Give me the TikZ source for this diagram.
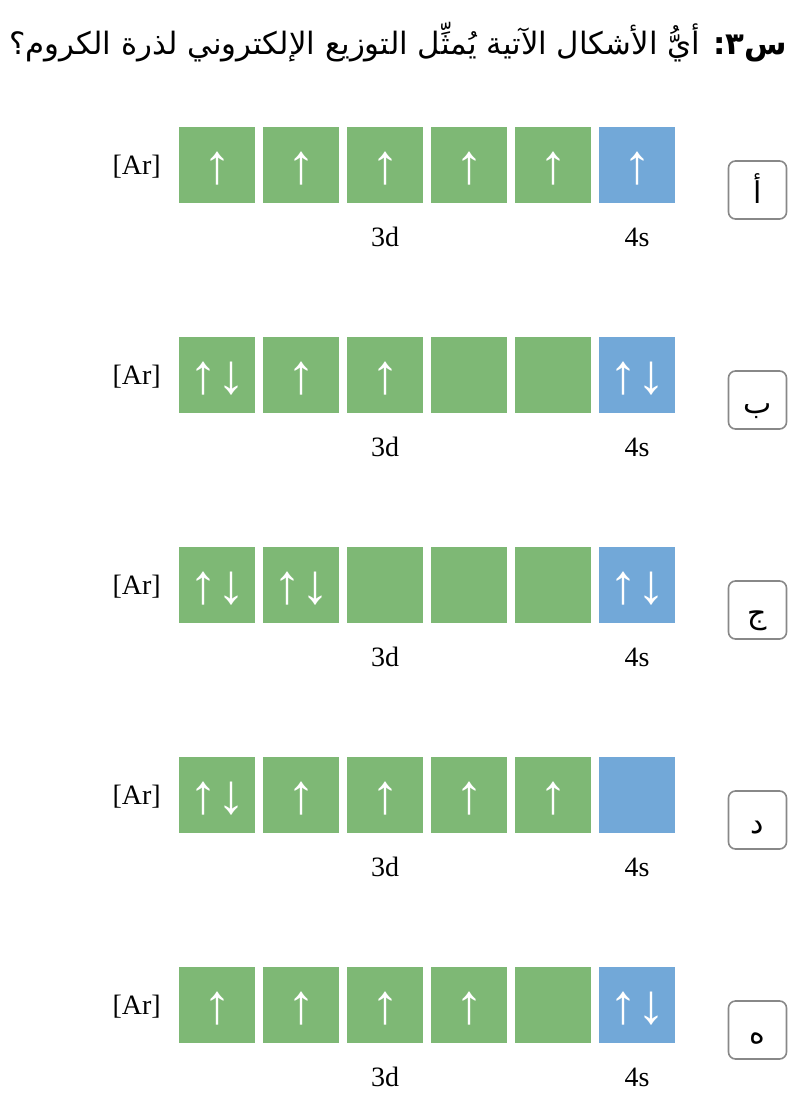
\documentclass[tikz,border=0pt]{standalone}
\usepackage{fontspec}
\setmainfont{Liberation Serif}
\newfontfamily\arabicfont[Script=Arabic]{DejaVu Sans}
\TeXXeTstate=1
\definecolor{dgreen}{HTML}{7EB875}
\definecolor{sblue}{HTML}{72A8D8}
\definecolor{lborder}{HTML}{888888}
\newcommand{\spn}[1]{\raisebox{-3.5pt}[\height][\depth]{#1}}
\tikzset{
  orb/.style={minimum width=76pt,minimum height=76pt,inner sep=0pt,text=white,font=\fontsize{56}{56}\selectfont},
  dorb/.style={orb,fill=dgreen},
  sorb/.style={orb,fill=sblue},
  lbl/.style={font=\fontsize{28}{28}\selectfont,inner sep=0pt},
  optbox/.style={draw=lborder,line width=1.6pt,rounded corners=7pt,minimum width=58pt,minimum height=58pt,inner sep=0pt,text height=26pt,text depth=0pt,font=\arabicfont\fontsize{30}{30}\selectfont}
}
\begin{document}
\begin{tikzpicture}[x=1pt,y=-1pt]
\useasboundingbox (0,0) rectangle (808,1108);
\node[anchor=base east,inner sep=0pt,font=\arabicfont\fontsize{30.8}{30.8}\selectfont] (title) at (787,55)
  {\beginR{\bfseries س٣:} أيُّ الأشكال الآتية يُمثِّل التوزيع الإلكتروني لذرة الكروم؟\endR};
\foreach \r/\a/\b/\c/\d/\e/\s/\l in {
  0/↑/↑/↑/↑/↑/↑/أ,
  1/↑↓/↑/↑/{}/{}/↑↓/ب,
  2/↑↓/↑↓/{}/{}/{}/↑↓/ج,
  3/↑↓/↑/↑/↑/↑/{}/د,
  4/↑/↑/↑/↑/{}/↑↓/ه}{
  \pgfmathsetmacro{\yy}{165+210*\r}
  \node[lbl,anchor=east] (ar\r) at (161,\yy+2) {[Ar]};
  \node[dorb] (d1\r) at (217,\yy) {\spn{\a}};
  \node[dorb] (d2\r) at (301,\yy) {\spn{\b}};
  \node[dorb] (d3\r) at (385,\yy) {\spn{\c}};
  \node[dorb] (d4\r) at (469,\yy) {\spn{\d}};
  \node[dorb] (d5\r) at (553,\yy) {\spn{\e}};
  \node[sorb] (s\r) at (637,\yy) {\spn{\s}};
  \node[lbl] (l3d\r) at (385,\yy+72) {3d};
  \node[lbl] (l4s\r) at (637,\yy+72) {4s};
  \node[optbox] (opt\r) at (757.5,\yy+25) {\beginR\l\endR};
}
\end{tikzpicture}
\end{document}
